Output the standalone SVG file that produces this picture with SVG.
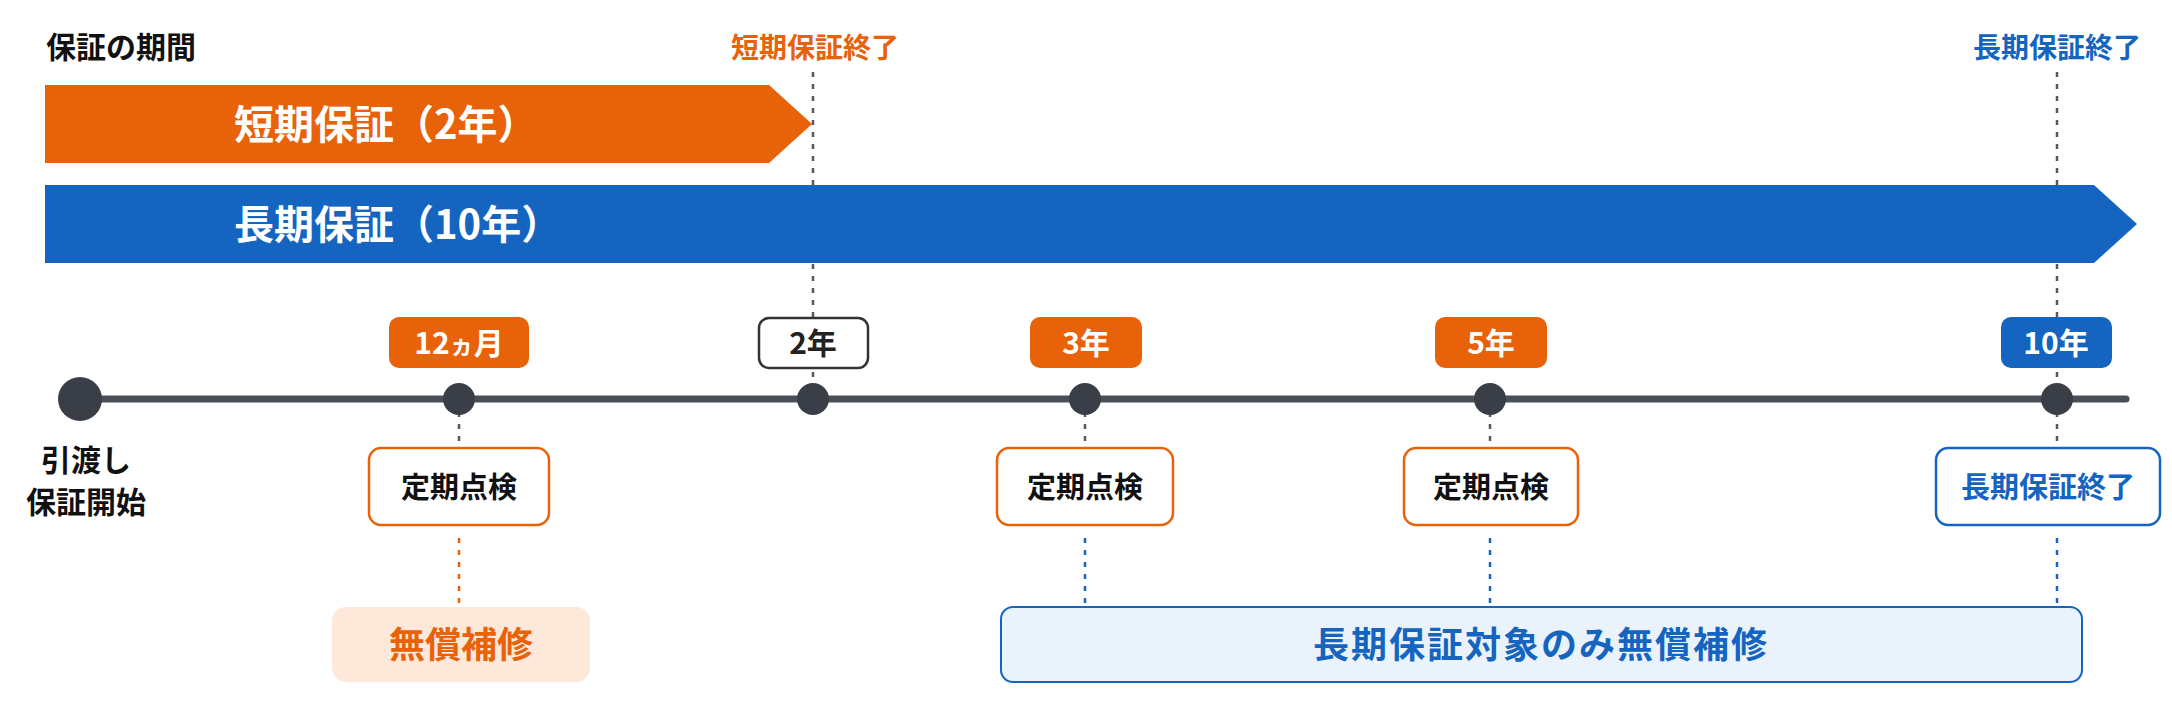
<svg xmlns="http://www.w3.org/2000/svg" width="2172" height="724" viewBox="0 0 2172 724">
<style>
text{font-family:"Noto Sans CJK JP","Noto Sans",sans-serif;font-weight:700}
.c{text-anchor:middle}
.dg{stroke:#555a62;stroke-width:2.5;stroke-dasharray:5 7;fill:none}
.do{stroke:#e8620a;stroke-width:2.5;stroke-dasharray:5 7;fill:none}
.db{stroke:#1565c0;stroke-width:2.5;stroke-dasharray:5 7;fill:none}
.dot{fill:#3a3e46}
.ib{fill:#fff;stroke:#e8620a;stroke-width:2.5}
</style>
<rect width="2172" height="724" fill="#fff"/>
<g id="connectors">
<line class="dg" x1="813" y1="72" x2="813" y2="400"/>
<line class="dg" x1="2057" y1="72" x2="2057" y2="400"/>
<line class="dg" x1="459" y1="400" x2="459" y2="448"/>
<line class="dg" x1="1085" y1="400" x2="1085" y2="448"/>
<line class="dg" x1="1490" y1="400" x2="1490" y2="448"/>
<line class="dg" x1="2057" y1="400" x2="2057" y2="448"/>
<line class="do" x1="459" y1="538" x2="459" y2="603"/>
<line class="db" x1="1085" y1="538" x2="1085" y2="607"/>
<line class="db" x1="1490" y1="538" x2="1490" y2="607"/>
<line class="db" x1="2057" y1="538" x2="2057" y2="607"/>
</g>
<g id="title"><text x="46" y="58" font-size="30" fill="#111">保証の期間</text></g>
<g id="short-end"><text class="c" x="815" y="58" font-size="28" fill="#e8620a">短期保証終了</text></g>
<g id="long-end"><text class="c" x="2057" y="58" font-size="28" fill="#1565c0">長期保証終了</text></g>
<g id="short-bar"><polygon points="45,85 769,85 812,124 769,163 45,163" fill="#e8620a"/>
<text x="234" y="139" font-size="40" fill="#fff">短期保証（2年）</text></g>
<g id="long-bar"><polygon points="45,185 2094,185 2137,224 2094,263 45,263" fill="#1565c0"/>
<text x="234" y="239" font-size="40" fill="#fff">長期保証（10年）</text></g>
<g id="timeline"><line x1="80" y1="399" x2="2126" y2="399" stroke="#4a4f57" stroke-width="7" stroke-linecap="round"/>
<circle class="dot" cx="80" cy="399" r="22"/>
<circle class="dot" cx="459" cy="399" r="16"/>
<circle class="dot" cx="813" cy="399" r="16"/>
<circle class="dot" cx="1085" cy="399" r="16"/>
<circle class="dot" cx="1490" cy="399" r="16"/>
<circle class="dot" cx="2057" cy="399" r="16"/></g>
<g id="start"><text class="c" x="86" y="471" font-size="30" fill="#111">引渡し</text><text class="c" x="86" y="513" font-size="30" fill="#111">保証開始</text></g>
<g id="m12"><rect x="389" y="317" width="140" height="51" rx="10" fill="#e8620a"/><text class="c" x="459" y="354" font-size="30" fill="#fff">12<tspan font-size="24">ヵ</tspan>月</text></g>
<g id="y2"><rect x="759" y="318" width="109" height="50" rx="10" fill="#fff" stroke="#333" stroke-width="2.5"/><text class="c" x="813" y="354" font-size="30" fill="#222">2年</text></g>
<g id="y3"><rect x="1030" y="317" width="112" height="51" rx="10" fill="#e8620a"/><text class="c" x="1086" y="354" font-size="30" fill="#fff">3年</text></g>
<g id="y5"><rect x="1435" y="317" width="112" height="51" rx="10" fill="#e8620a"/><text class="c" x="1491" y="354" font-size="30" fill="#fff">5年</text></g>
<g id="y10"><rect x="2001" y="317" width="111" height="51" rx="10" fill="#1565c0"/><text class="c" x="2056" y="354" font-size="30" fill="#fff">10年</text></g>
<g id="insp1"><rect class="ib" x="369" y="448" width="180" height="77" rx="12"/><text class="c" x="459" y="498" font-size="29" fill="#111">定期点検</text></g>
<g id="insp3"><rect class="ib" x="997" y="448" width="176" height="77" rx="12"/><text class="c" x="1085" y="498" font-size="29" fill="#111">定期点検</text></g>
<g id="insp5"><rect class="ib" x="1404" y="448" width="174" height="77" rx="12"/><text class="c" x="1491" y="498" font-size="29" fill="#111">定期点検</text></g>
<g id="end10"><rect x="1936" y="448" width="224" height="77" rx="12" fill="#fff" stroke="#1565c0" stroke-width="2.5"/><text class="c" x="2048" y="498" font-size="29" fill="#1565c0">長期保証終了</text></g>
<g id="free1"><rect x="332" y="607" width="258" height="75" rx="14" fill="#fde8da"/><text class="c" x="461" y="658" font-size="36" fill="#e8620a">無償補修</text></g>
<g id="free2"><rect x="1001" y="607" width="1081" height="75" rx="12" fill="#eaf3fc" stroke="#1565c0" stroke-width="2"/><text class="c" x="1541" y="658" font-size="36" fill="#1565c0" letter-spacing="2">長期保証対象のみ無償補修</text></g>
</svg>
